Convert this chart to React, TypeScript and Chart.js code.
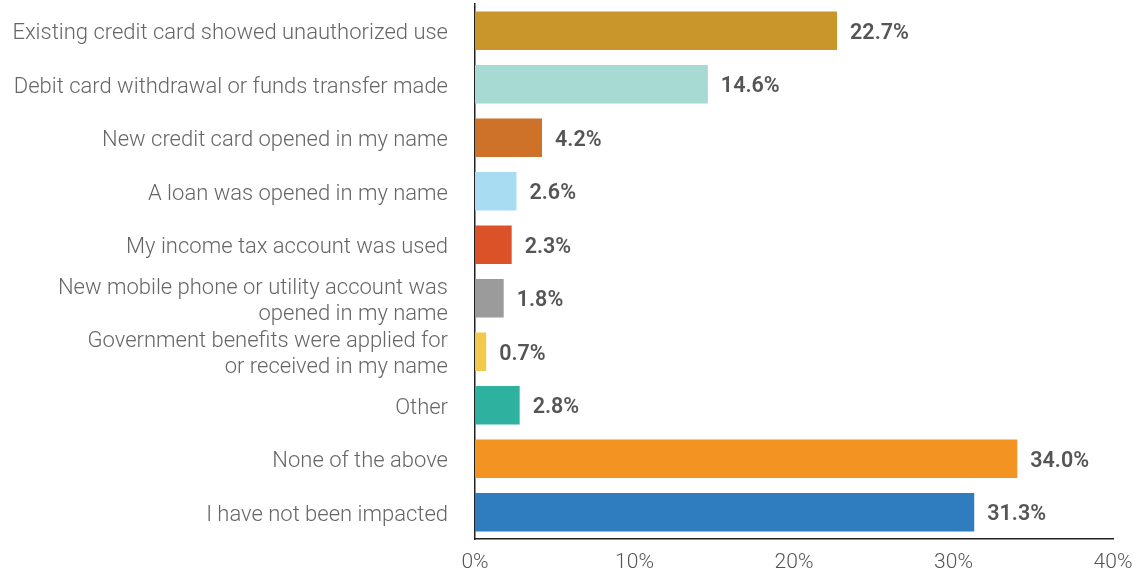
import React, { useEffect, useRef } from "react";
import { Chart, registerables } from "chart.js";

Chart.register(...registerables);

const categories: (string | string[])[] = [
  "Existing credit card showed unauthorized use",
  "Debit card withdrawal or funds transfer made",
  "New credit card opened in my name",
  "A loan was opened in my name",
  "My income tax account was used",
  ["New mobile phone or utility account was", "opened in my name"],
  ["Government benefits were applied for", "or received in my name"],
  "Other",
  "None of the above",
  "I have not been impacted",
];

const values: number[] = [22.7, 14.6, 4.2, 2.6, 2.3, 1.8, 0.7, 2.8, 34.0, 31.3];

const barColors: string[] = [
  "#C8962B",
  "#A6DAD2",
  "#CE7129",
  "#A7DCF3",
  "#DB5229",
  "#9B9B9B",
  "#F1C94D",
  "#2EB29F",
  "#F39322",
  "#2F7DBE",
];

const xTicks: number[] = [0, 10, 20, 30, 40];

const FONT = "Roboto, 'Noto Sans', sans-serif";

const valueLabels = {
  id: "valueLabels",
  afterDatasetsDraw(chart: any) {
    const ctx = chart.ctx;
    const meta = chart.getDatasetMeta(0);
    ctx.save();
    ctx.font = `600 21.5px ${FONT}`;
    ctx.fillStyle = "#555555";
    ctx.textAlign = "left";
    ctx.textBaseline = "middle";
    meta.data.forEach((bar: any, i: number) => {
      ctx.fillText(values[i].toFixed(1) + "%", bar.x + 13, bar.y + 2.5);
    });
    ctx.restore();
  },
};

export default function App() {
  const ref = useRef<HTMLCanvasElement | null>(null);

  useEffect(() => {
    if (!ref.current) return;
    const chart = new Chart(ref.current, {
      type: "bar",
      data: {
        labels: categories,
        datasets: [
          {
            data: values,
            backgroundColor: barColors,
            borderWidth: 0,
            barPercentage: 0.72,
            categoryPercentage: 1,
          },
        ],
      },
      options: {
        indexAxis: "y",
        animation: false,
        responsive: true,
        maintainAspectRatio: false,
        layout: { padding: { top: 4, right: 31, left: 0, bottom: 0 } },
        plugins: {
          legend: { display: false },
          tooltip: { enabled: false },
        },
        scales: {
          x: {
            min: 0,
            max: 40,
            afterBuildTicks: (scale: any) => {
              scale.ticks = xTicks.map((v) => ({ value: v }));
            },
            afterFit: (scale: any) => {
              scale.height = 34;
              scale.paddingLeft = 0;
              scale.paddingRight = 0;
            },
            grid: { display: false, drawTicks: false },
            border: { display: true, color: "#222222", width: 1.5 },
            ticks: {
              padding: 11,
              color: "#555555",
              font: { family: FONT, size: 21, weight: 300 as any },
              callback: (v: any) => v + "%",
            },
          },
          y: {
            afterFit: (scale: any) => {
              scale.width = 475;
              scale.paddingTop = 0;
              scale.paddingBottom = 0;
            },
            grid: { display: false, drawTicks: false },
            border: { display: true, color: "#222222", width: 1.5 },
            ticks: {
              autoSkip: false,
              padding: 27,
              labelOffset: 3,
              color: "#666666",
              font: { family: FONT, size: 22, weight: 300 as any, lineHeight: 1.18 },
            },
          },
        },
      },
      plugins: [valueLabels],
    });
    return () => chart.destroy();
  }, []);

  return (
    <div style={{ position: "fixed", left: 0, top: 0, width: 1144, height: 573, background: "#fff" }}>
      <canvas ref={ref} />
    </div>
  );
}
